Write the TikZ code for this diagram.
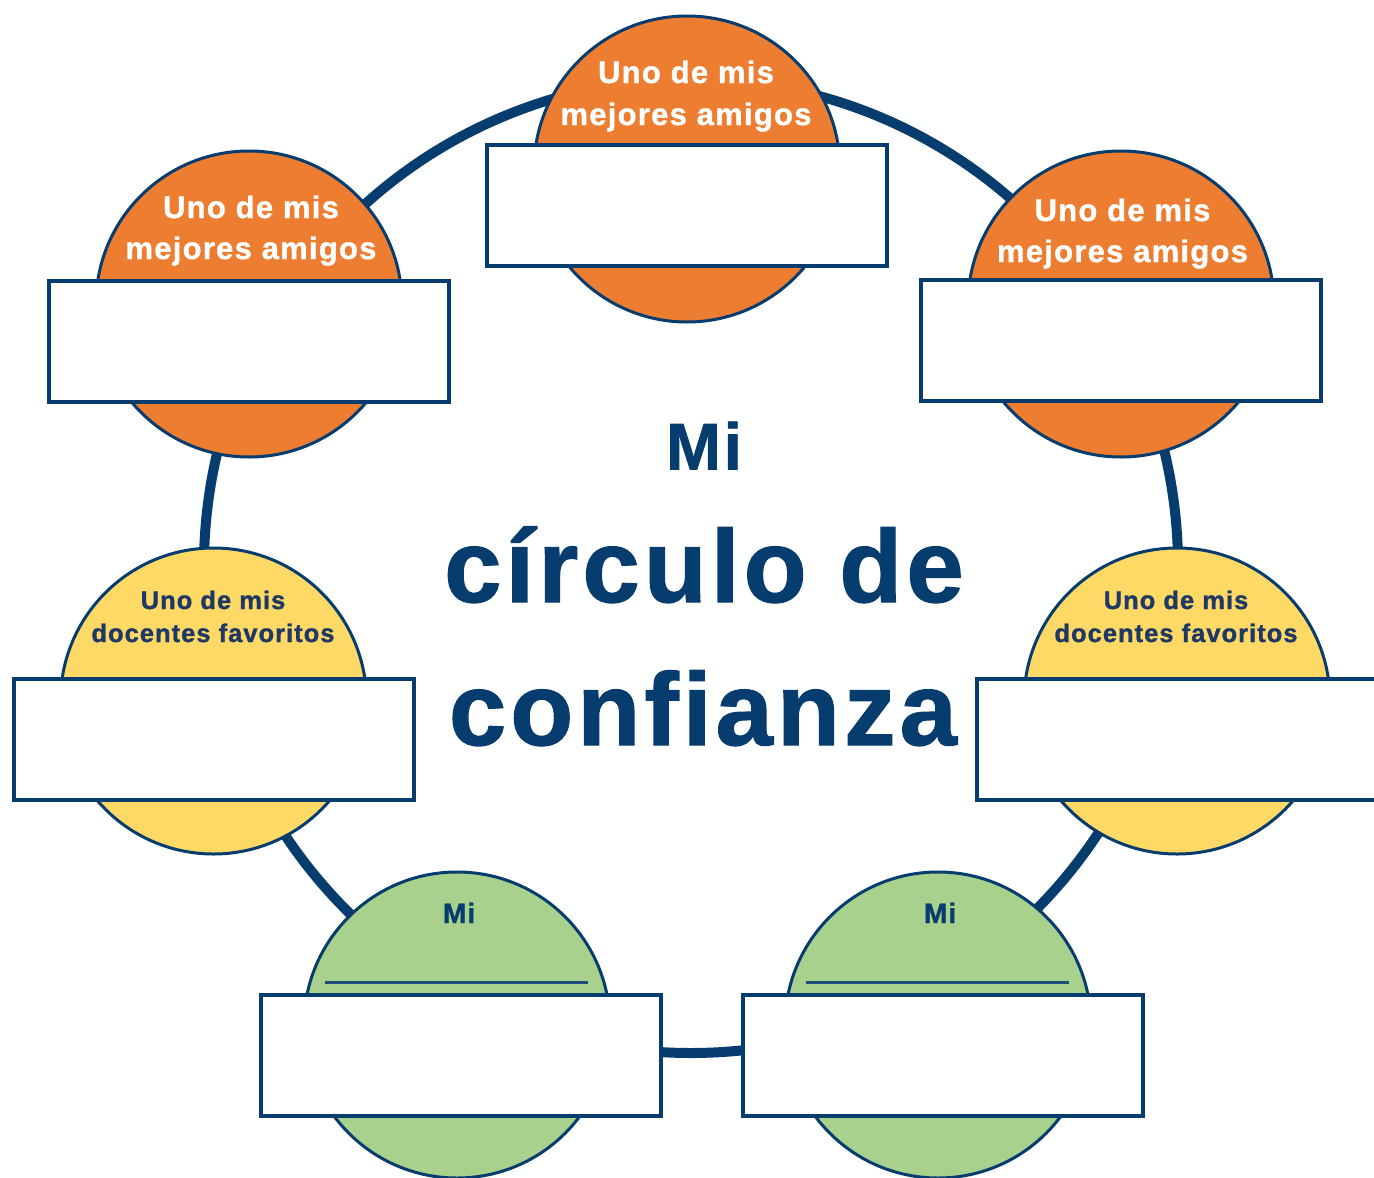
\documentclass[tikz,border=0pt]{standalone}
\usepackage{fontspec}
\setmainfont{Liberation Sans}
\newfontfamily\hb{Liberation Sans}[LetterSpace=4, FakeBold=1.2]
\definecolor{ringblue}{HTML}{073C6F}
\definecolor{textnavy}{HTML}{1F3864}
\definecolor{linenavy}{HTML}{1F4E79}
\definecolor{orangefill}{HTML}{ED7D31}
\definecolor{yellowfill}{HTML}{FFD966}
\definecolor{greenfill}{HTML}{A9D18E}
\tikzset{
  bubble/.style={circle, draw=ringblue, line width=3pt, minimum size=306pt, inner sep=0pt},
  orangebubble/.style={bubble, fill=orangefill},
  yellowbubble/.style={bubble, fill=yellowfill},
  greenbubble/.style={bubble, fill=greenfill},
  namebox/.style={rectangle, draw=ringblue, fill=white, line width=4pt, minimum width=400pt, minimum height=121pt, inner sep=0pt},
  orangetxt/.style={anchor=base, inner sep=0pt, text=white, font=\hb\bfseries\fontsize{31}{31}\selectfont},
  yellowtxt/.style={anchor=base, inner sep=0pt, text=textnavy, font=\hb\bfseries\fontsize{25.5}{25.5}\selectfont},
  greentxt/.style={anchor=base, inner sep=0pt, text=ringblue, font=\hb\bfseries\fontsize{28}{28}\selectfont},
  titletxt/.style={anchor=base, inner sep=0pt, text=ringblue, font=\hb\bfseries},
}
\begin{document}
\begin{tikzpicture}[x=1pt,y=-1pt]
\useasboundingbox (0,0) rectangle (1374,1178);
% ring
\draw[ringblue, line width=10pt] (691,566) circle[radius=487];
% bubbles
\node[orangebubble] (c1) at (687,169) {};
\node[orangebubble] (c2) at (249,304) {};
\node[orangebubble] (c3) at (1121,304) {};
\node[yellowbubble] (c4) at (213.5,701) {};
\node[yellowbubble] (c5) at (1177,701) {};
\node[greenbubble] (c6) at (457,1025) {};
\node[greenbubble] (c7) at (938,1025) {};
% bubble texts
\node[orangetxt] (t1a) at (686,83) {Uno de mis};
\node[orangetxt] (t1b) at (686,125) {mejores amigos};
\node[orangetxt] (t2a) at (251,218) {Uno de mis};
\node[orangetxt] (t2b) at (251,259) {mejores amigos};
\node[orangetxt] (t3a) at (1122.5,221) {Uno de mis};
\node[orangetxt] (t3b) at (1122.5,262) {mejores amigos};
\node[yellowtxt] (t4a) at (213,609) {Uno de mis};
\node[yellowtxt] (t4b) at (213,642) {docentes favoritos};
\node[yellowtxt] (t5a) at (1176,609) {Uno de mis};
\node[yellowtxt] (t5b) at (1176,642) {docentes favoritos};
\node[greentxt] (t6) at (459,923) {Mi};
\node[greentxt] (t7) at (940,923) {Mi};
% underlines in green bubbles
\coordinate (u6a) at (325,982); \coordinate (u6b) at (588,982);
\coordinate (u7a) at (806,982); \coordinate (u7b) at (1069,982);
\draw[linenavy, line width=3pt] (u6a) -- (u6b);
\draw[linenavy, line width=3pt] (u7a) -- (u7b);
% boxes
\node[namebox] (b1) at (686.5,205.5) {};
\node[namebox] (b2) at (248.5,341) {};
\node[namebox] (b3) at (1120.5,340.5) {};
\node[namebox] (b4) at (214,739) {};
\node[namebox] (b5) at (1177,739) {};
\node[namebox] (b6) at (461,1055) {};
\node[namebox] (b7) at (942.5,1055) {};
% title
\node[titletxt, font=\hb\bfseries\fontsize{66}{66}\selectfont] (m1) at (704,469.5) {Mi};
\node[titletxt, font=\hb\bfseries\fontsize{103}{103}\selectfont] (m2) at (704,602) {círculo de};
\node[titletxt, font=\hb\bfseries\fontsize{103}{103}\selectfont] (m3) at (703,745) {confianza};
\end{tikzpicture}
\end{document}
